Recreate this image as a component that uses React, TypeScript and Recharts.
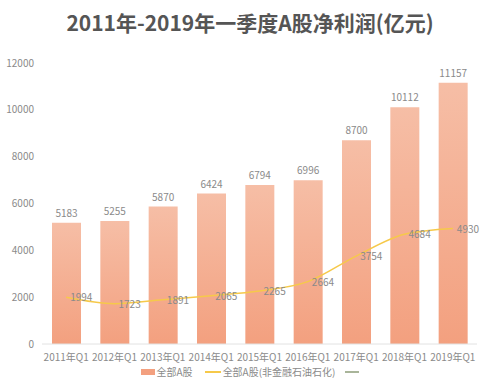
import React from 'react';
import {
  ComposedChart,
  Bar,
  Line,
  XAxis,
  YAxis,
  LabelList,
} from 'recharts';

const categories = [
  '2011年Q1', '2012年Q1', '2013年Q1', '2014年Q1', '2015年Q1',
  '2016年Q1', '2017年Q1', '2018年Q1', '2019年Q1',
];
const allA = [5183, 5255, 5870, 6424, 6794, 6996, 8700, 10112, 11157];
const nonFin = [1994, 1723, 1891, 2065, 2265, 2664, 3754, 4684, 4930];
const yTicks = [0, 2000, 4000, 6000, 8000, 10000, 12000];
const seriesNames = ['全部A股', '全部A股(非金融石油石化)'];

const FONT = '"Noto Sans CJK SC", "Noto Sans", sans-serif';
const BAR_TOP = '#f6bea6';
const BAR_BOTTOM = '#f3a07f';
const LINE_COLOR = '#f6c94a';

const data = categories.map((name, i) => ({ name, allA: allA[i], nonFin: nonFin[i] }));

function LineLabel(props: any) {
  const { x, y, value } = props;
  return (
    <text x={x + 4} y={y} dy={4} fill="#8a8a8a" fontSize={10} fontFamily={FONT}>
      {value}
    </text>
  );
}

export default function App() {
  return (
    <div
      style={{
        position: 'absolute',
        top: 0,
        left: 0,
        width: 500,
        height: 383,
        background: '#fff',
        fontFamily: FONT,
      }}
    >
      <div
        style={{
          position: 'absolute',
          top: 7,
          left: 0,
          width: 500,
          textAlign: 'center',
          fontSize: 21,
          fontWeight: 'bold',
          color: '#555',
        }}
      >
        2011年-2019年一季度A股净利润(亿元)
      </div>
      <ComposedChart
        width={500}
        height={383}
        data={data}
        margin={{ top: 63, right: 23, left: 0, bottom: 15 }}
      >
        <defs>
          <linearGradient id="barGrad" x1="0" y1="0" x2="0" y2="1">
            <stop offset="0%" stopColor={BAR_TOP} />
            <stop offset="100%" stopColor={BAR_BOTTOM} />
          </linearGradient>
        </defs>
        <XAxis
          dataKey="name"
          height={24}
          tickLine={false}
          axisLine={{ stroke: '#e2e2e2' }}
          tick={{ fill: '#8a8a8a', fontSize: 10, fontFamily: FONT }}
          tickMargin={4}
        />
        <YAxis
          width={42}
          domain={[0, 12000]}
          ticks={yTicks}
          tickLine={false}
          axisLine={false}
          tick={{ fill: '#8a8a8a', fontSize: 10, fontFamily: FONT }}
        />
        <Bar dataKey="allA" name={seriesNames[0]} barSize={29} fill="url(#barGrad)" isAnimationActive={false}>
          <LabelList dataKey="allA" position="top" fill="#8a8a8a" fontSize={10} fontFamily={FONT} offset={6} />
        </Bar>
        <Line
          type="monotone"
          dataKey="nonFin"
          name={seriesNames[1]}
          stroke={LINE_COLOR}
          strokeWidth={1.5}
          dot={false}
          isAnimationActive={false}
        >
          <LabelList dataKey="nonFin" content={<LineLabel />} />
        </Line>
      </ComposedChart>
      <div
        style={{
          position: 'absolute',
          top: 365,
          left: 0,
          width: 500,
          display: 'flex',
          justifyContent: 'center',
          alignItems: 'center',
          fontSize: 10,
          color: '#8a8a8a',
          lineHeight: '14px',
        }}
      >
        <span style={{ display: 'inline-block', width: 14, height: 6, background: BAR_BOTTOM, marginRight: 2 }} />
        <span style={{ marginRight: 12 }}>{seriesNames[0]}</span>
        <span style={{ display: 'inline-block', width: 16, height: 1.5, background: LINE_COLOR, marginRight: 2 }} />
        <span style={{ marginRight: 10 }}>{seriesNames[1]}</span>
        <span style={{ display: 'inline-block', width: 14, height: 1.5, background: '#a9b59a' }} />
      </div>
    </div>
  );
}
